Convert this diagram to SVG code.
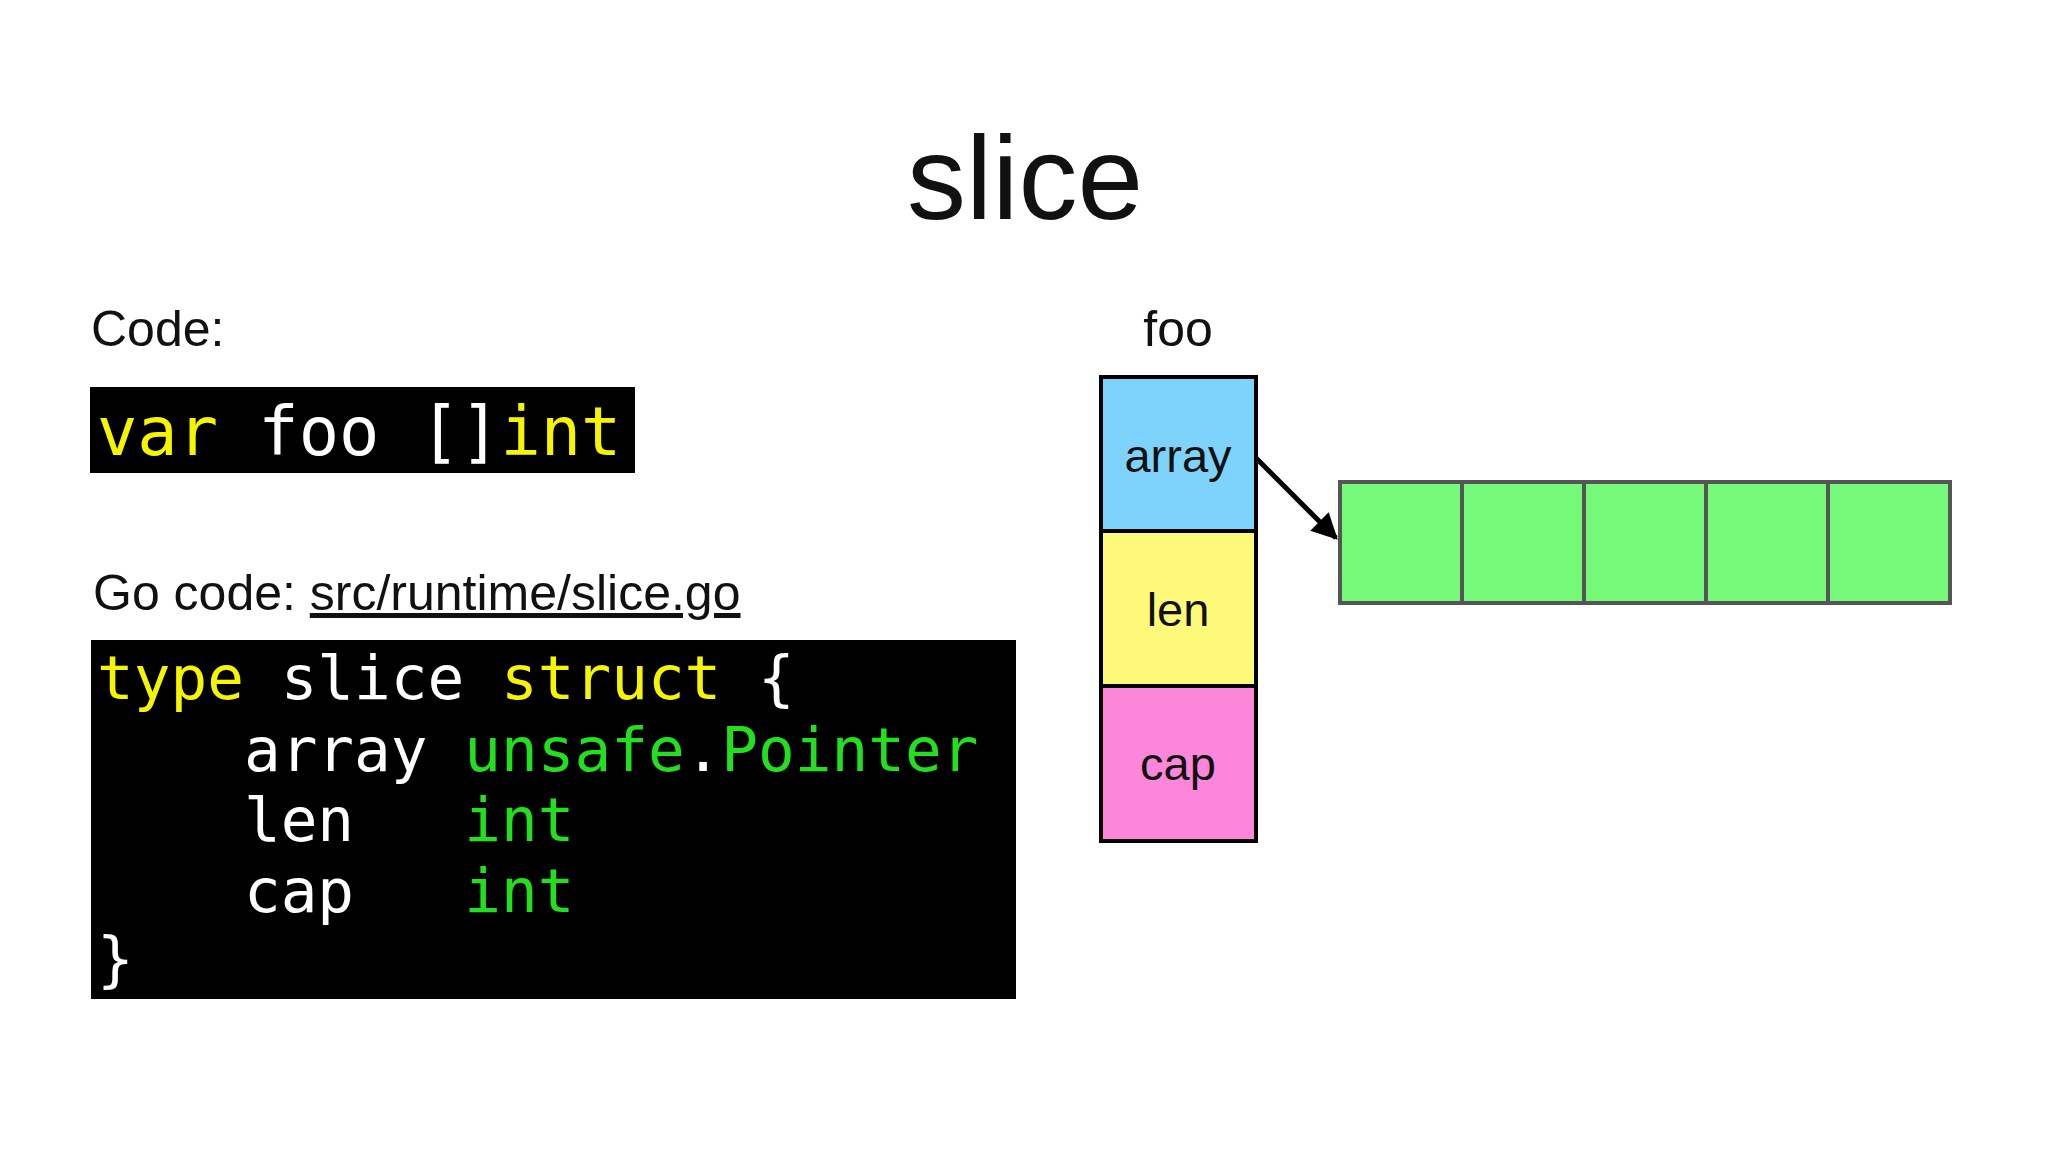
<svg xmlns="http://www.w3.org/2000/svg" width="2048" height="1152" viewBox="0 0 2048 1152">
<style>
.s{font-family:"Liberation Sans",Arial,sans-serif;fill:#111}
.m{font-family:"DejaVu Sans Mono",monospace;fill:#fff}
.y{fill:#f5f500}.g{fill:#22e01e}
.cell{fill:#76f878;stroke:#555;stroke-width:4}
</style>
<defs><marker id="ah" markerWidth="10" markerHeight="10" refX="8" refY="5" orient="auto" markerUnits="userSpaceOnUse" viewBox="0 0 10 10"><path d="M0,0 L10,5 L0,10 z" fill="#000"/></marker>
<marker id="a2" viewBox="0 0 10 10" refX="9" refY="5" markerWidth="26" markerHeight="26" markerUnits="userSpaceOnUse" orient="auto"><path d="M0,0 L10,5 L0,10 z" fill="#000"/></marker></defs>
<rect width="2048" height="1152" fill="#fff"/>
<text class="s" x="1025" y="219" font-size="118" text-anchor="middle">slice</text>
<g id="code1">
<text class="s" x="91" y="346" font-size="50">Code:</text>
<rect x="90" y="387" width="545" height="86" fill="#000"/>
<text class="m" x="97" y="455" font-size="67"><tspan class="y">var</tspan> foo []<tspan class="y">int</tspan></text>
</g>
<g id="code2">
<text class="s" x="93" y="610" font-size="50">Go code: <tspan text-decoration="underline">src/runtime/slice.go</tspan></text>
<rect x="91" y="640" width="925" height="359" fill="#000"/>
<text class="m" font-size="61" xml:space="preserve"><tspan x="97" y="699"><tspan class="y">type</tspan> slice <tspan class="y">struct</tspan> {</tspan><tspan x="97" y="771">    array <tspan class="g">unsafe</tspan>.<tspan class="g">Pointer</tspan></tspan><tspan x="97" y="841">    len   <tspan class="g">int</tspan></tspan><tspan x="97" y="912">    cap   <tspan class="g">int</tspan></tspan><tspan x="97" y="980">}</tspan></text>
</g>
<g id="foo">
<text class="s" x="1178" y="346" font-size="50" text-anchor="middle">foo</text>
<rect x="1101" y="377" width="155" height="154" fill="#7dd3fb" stroke="#000" stroke-width="4"/>
<rect x="1101" y="531" width="155" height="155" fill="#fff97a" stroke="#000" stroke-width="4"/>
<rect x="1101" y="686" width="155" height="155" fill="#fc86d9" stroke="#000" stroke-width="4"/>
<text class="s" x="1178" y="472" font-size="47" text-anchor="middle">array</text>
<text class="s" x="1178" y="626" font-size="47" text-anchor="middle">len</text>
<text class="s" x="1178" y="780" font-size="47" text-anchor="middle">cap</text>
</g>
<g id="arr">
<rect class="cell" x="1340" y="482" width="122" height="121"/>
<rect class="cell" x="1462" y="482" width="122" height="121"/>
<rect class="cell" x="1584" y="482" width="122" height="121"/>
<rect class="cell" x="1706" y="482" width="122" height="121"/>
<rect class="cell" x="1828" y="482" width="122" height="121"/>
</g>
<g id="connectors">
<line x1="1256" y1="458" x2="1336" y2="538" stroke="#000" stroke-width="5" marker-end="url(#a2)"/>
</g>
</svg>
